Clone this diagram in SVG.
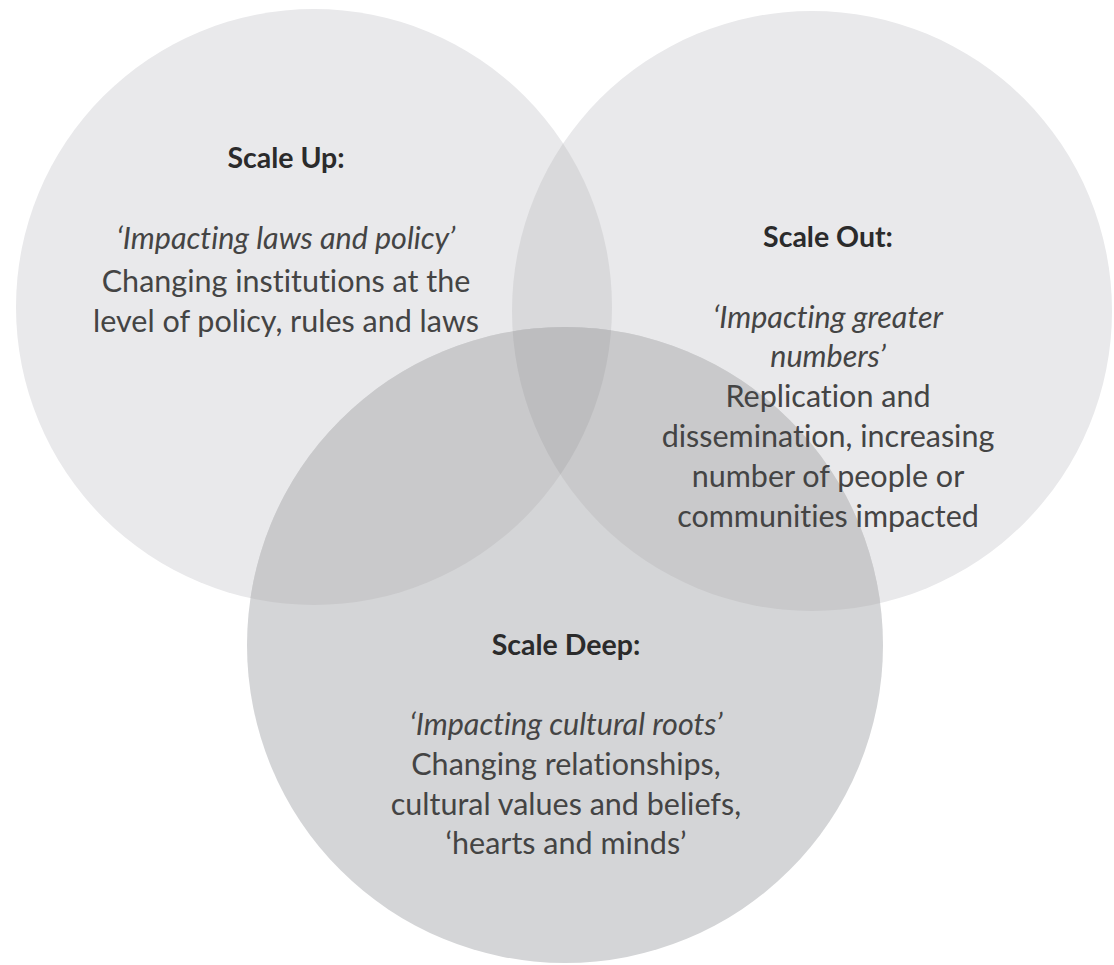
<svg xmlns="http://www.w3.org/2000/svg" width="1114" height="965" viewBox="0 0 1114 965">
<style>
text{font-variant-ligatures:none}
.h{font-family:Lato,"Open Sans","Liberation Sans",sans-serif;font-weight:bold;font-size:28.5px;fill:#2b2b2b;text-anchor:middle}
.i{font-family:Lato,"Open Sans","Liberation Sans",sans-serif;font-style:italic;font-size:30.5px;fill:#444;text-anchor:middle}
.b{font-family:Lato,"Open Sans","Liberation Sans",sans-serif;font-size:30.5px;fill:#444;text-anchor:middle}
</style>
<defs>
<clipPath id="c1"><circle cx="314" cy="307" r="298"/></clipPath>
<clipPath id="c2"><circle cx="812" cy="311" r="300"/></clipPath>
</defs>
<rect width="1114" height="965" fill="#ffffff"/>
<g id="shapes">
<circle cx="314" cy="307" r="298" fill="#e9e9eb"/>
<circle cx="812" cy="311" r="300" fill="#e9e9eb"/>
<circle cx="812" cy="311" r="300" fill="#d9d9db" clip-path="url(#c1)"/>
<circle cx="565" cy="645" r="318" fill="#d4d5d7"/>
<circle cx="565" cy="645" r="318" fill="#c9c9cb" clip-path="url(#c1)"/>
<circle cx="565" cy="645" r="318" fill="#c9c9cb" clip-path="url(#c2)"/>
<g clip-path="url(#c1)"><circle cx="565" cy="645" r="318" fill="#bdbdbf" clip-path="url(#c2)"/></g>
</g>
<g id="connectors"/>
<g id="scale-up">
<text class="h" x="286" y="168">Scale Up:</text>
<text class="i" x="286" y="249">‘Impacting laws and policy’</text>
<text class="b" x="286" y="292">Changing institutions at the</text>
<text class="b" x="286" y="332">level of policy, rules and laws</text>
</g>
<g id="scale-out">
<text class="h" x="828" y="247">Scale Out:</text>
<text class="i" x="828" y="328">‘Impacting greater</text>
<text class="i" x="828" y="367">numbers’</text>
<text class="b" x="828" y="407">Replication and</text>
<text class="b" x="828" y="447">dissemination, increasing</text>
<text class="b" x="828" y="487">number of people or</text>
<text class="b" x="828" y="527">communities impacted</text>
</g>
<g id="scale-deep">
<text class="h" x="566" y="655">Scale Deep:</text>
<text class="i" x="566" y="735">‘Impacting cultural roots’</text>
<text class="b" x="566" y="775">Changing relationships,</text>
<text class="b" x="566" y="815">cultural values and beliefs,</text>
<text class="b" x="566" y="854">‘hearts and minds’</text>
</g>
</svg>
